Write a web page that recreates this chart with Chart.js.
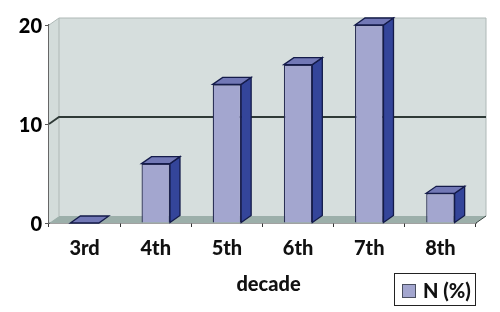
<!DOCTYPE html>
<html>
<head>
<meta charset="utf-8">
<script src="https://cdn.jsdelivr.net/npm/chart.js@4"></script>
<style>
    body { margin: 0; background: #fff; }
    #wrap { position: relative; width: 500px; height: 312px; }
    #legend {
        position: absolute; left: 394px; top: 273px; width: 80px; height: 31px;
        border: 1px solid #222; font: 900 20px Lato, sans-serif; color: #111;
        display: flex; align-items: center;
    }
    #legend i { width: 12px; height: 12px; margin: 3px 7px 0 7px; border: 1px solid #4a4f60; }
</style>
</head>
<body>
<div id="wrap">
    <canvas id="chart" width="500" height="312"></canvas>
    <div id="legend"></div>
</div>
<script>
const decades = ["3rd", "4th", "5th", "6th", "7th", "8th"];
const percents = [0, 6, 14, 16, 20, 3];
const yTicks = [0, 10, 20];
const seriesName = "N (%)";

// 3D look of the old Excel chart
const DEPTH_X = 10;
const DEPTH_Y = 7;
const TITLE_SHIFT = 6;
const Y_LABEL_SHIFT = 1.5;

function poly(ctx, pts, fill, stroke) {
    ctx.beginPath();
    pts.forEach((p, i) => i ? ctx.lineTo(p[0], p[1]) : ctx.moveTo(p[0], p[1]));
    ctx.closePath();
    ctx.fillStyle = fill;
    ctx.fill();
    if (stroke) {
        ctx.strokeStyle = stroke;
        ctx.lineWidth = 1.3;
        ctx.stroke();
    }
}

const box3d = {
    id: "box3d",
    beforeDatasetsDraw(chart) {
        const { ctx, chartArea: a, scales } = chart;
        const dx = DEPTH_X, dy = DEPTH_Y;
        ctx.save();
        // back wall, side wall, floor
        poly(ctx, [[a.left + dx, a.top - dy], [a.right + dx, a.top - dy], [a.right + dx, a.bottom - dy], [a.left + dx, a.bottom - dy]], "#d6dedd");
        poly(ctx, [[a.left, a.top], [a.left + dx, a.top - dy], [a.left + dx, a.bottom - dy], [a.left, a.bottom]], "#d3dcda");
        poly(ctx, [[a.left, a.bottom], [a.left + dx, a.bottom - dy], [a.right + dx, a.bottom - dy], [a.right, a.bottom]], "#9cafaa");
        // wall edges
        ctx.strokeStyle = "#aeb8b6";
        ctx.lineWidth = 1;
        ctx.beginPath();
        ctx.moveTo(a.left, a.top);
        ctx.lineTo(a.left + dx, a.top - dy);
        ctx.lineTo(a.right + dx, a.top - dy);
        ctx.lineTo(a.right + dx, a.bottom - dy);
        ctx.moveTo(a.left + dx, a.top - dy);
        ctx.lineTo(a.left + dx, a.bottom - dy);
        ctx.stroke();
        // grid lines, only the middle one shows in the picture
        ctx.strokeStyle = "#2f3a37";
        ctx.lineWidth = 1.8;
        yTicks.slice(1, -1).forEach(v => {
            const y = scales.y.getPixelForValue(v);
            ctx.beginPath();
            ctx.moveTo(a.left, y);
            ctx.lineTo(a.left + dx, y - dy);
            ctx.lineTo(a.right + dx, y - dy);
            ctx.stroke();
        });
        ctx.strokeStyle = "#3c4744";
        ctx.lineWidth = 1;
        ctx.beginPath();
        ctx.moveTo(a.right, a.bottom);
        ctx.lineTo(a.right + dx, a.bottom - dy);
        ctx.stroke();
        ctx.restore();
    },
    afterDatasetsDraw(chart) {
        const { ctx } = chart;
        const dx = DEPTH_X, dy = DEPTH_Y;
        ctx.save();
        chart.getDatasetMeta(0).data.forEach(bar => {
            const l = bar.x - bar.width / 2;
            const r = bar.x + bar.width / 2;
            const t = bar.y;
            const b = bar.base;
            if (b > t) {
                poly(ctx, [[r, t], [r + dx, t - dy], [r + dx, b - dy], [r, b]], "#34459a", "#141b4a");
            }
            poly(ctx, [[l, t], [l + dx, t - dy], [r + dx, t - dy], [r, t]], "#7278b6", "#141b4a");
        });
        ctx.restore();
    }
};

const chart = new Chart(document.getElementById("chart"), {
    type: "bar",
    data: {
        labels: decades,
        datasets: [{
            label: seriesName,
            data: percents,
            backgroundColor: "#a3a6cf",
            borderColor: "#2a2f55",
            borderWidth: 1.3,
            barPercentage: 0.4,
            categoryPercentage: 1
        }]
    },
    options: {
        responsive: false,
        animation: false,
        layout: { padding: { top: 25, right: 24, bottom: 0, left: 0 } },
        plugins: { legend: { display: false }, tooltip: { enabled: false } },
        scales: {
            x: {
                grid: { drawOnChartArea: false, tickLength: 4, tickColor: "#333", tickWidth: 1 },
                border: { color: "#444", width: 1.5 },
                ticks: { color: "#111", padding: 10, maxRotation: 0, font: { family: "Lato", size: 20, weight: "900" } },
                title: { display: true, text: "decade", color: "#111", padding: { top: 10, bottom: 15 }, font: { family: "Lato", size: 20, weight: "900" } },
                afterFit(scale) { scale.height = 89; }
            },
            y: {
                min: 0,
                max: 20,
                afterBuildTicks(scale) { scale.ticks = yTicks.map(v => ({ value: v })); },
                grid: { drawOnChartArea: false, tickLength: 4, tickColor: "#555", tickWidth: 1 },
                border: { color: "#666", width: 2 },
                ticks: { color: "#000", padding: 3, font: { family: "Lato", size: 20, weight: "900" } },
                afterFit(scale) { scale.width = 49; }
            }
        }
    },
    plugins: [box3d]
});

// Small offsets the scale options can't do: title right of centre, y labels a bit lower
function shiftDraw(scale, method, dx, dy) {
    const orig = scale[method];
    scale[method] = function (...args) {
        this.ctx.save();
        this.ctx.translate(dx, dy);
        orig.apply(this, args);
        this.ctx.restore();
    };
}
shiftDraw(chart.scales.x, "drawTitle", TITLE_SHIFT, 0);
shiftDraw(chart.scales.y, "drawLabels", 0, Y_LABEL_SHIFT);
chart.draw();

// Legend box sits beside the axis title, so it is kept outside the canvas layout
const ds = chart.data.datasets[0];
document.getElementById("legend").innerHTML =
    `<i style="background:${ds.backgroundColor}"></i><span>${ds.label}</span>`;
</script>
</body>
</html>
